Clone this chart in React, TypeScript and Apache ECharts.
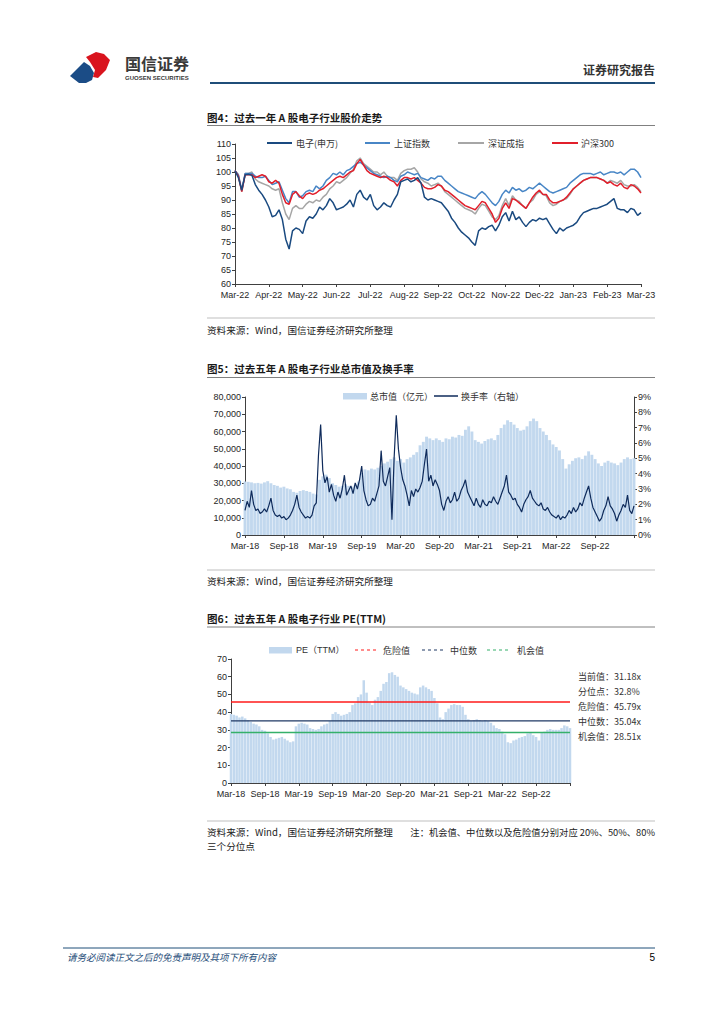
import React, { useEffect, useRef } from 'react';
import * as echarts from 'echarts';

// ---------------- Chart 1: past year price index (base 100) ----------------
const months1 = ['Mar-22', 'Apr-22', 'May-22', 'Jun-22', 'Jul-22', 'Aug-22', 'Sep-22', 'Oct-22', 'Nov-22', 'Dec-22', 'Jan-23', 'Feb-23', 'Mar-23'];
const legend1 = ['电子(申万)', '上证指数', '深证成指', '沪深300'];
const elec = [100.5,98,93.5,99,99.2,98.8,95.5,93.5,92,90,
 87.5,84,84.5,86.5,83,76,72.5,79,80,79.5,
 78,82.5,84,83.5,85,87.5,86.5,88,90.5,89,
 86.5,87,87.5,88.5,90,87.5,92,93.5,91,90,
 92,88,86.5,87.5,89,88,87.5,90,92,96.5,
 97,97.5,96.5,97,98,96,91,90,90.5,90,
 89.5,89,87.5,86,83.5,82,80,78.5,77.5,76.5,
 75,73.8,79,80,79.5,80.5,81,79,81,84,
 85.5,82.5,86,83,84,82,80.5,82,83,82.5,
 83.5,83,83.5,81.5,79.5,78,80,79,80,80.5,
 81,82,84,85.5,86,86.5,87,87,87.5,88,
 88.5,89.5,90.5,87,86.5,86.5,85.5,87,86.5,84.5,
 85.5];
const shIndex = [100.5,99,93.5,99.5,99.5,99.5,98.5,98,98,98.5,
 97,95.5,96,96.5,93.5,90.5,89,93,93,91,
 91.5,93,93.5,93,95,94,95,97,98,99.5,
 99,100,99,100.5,101,102,103,103.5,102.5,101.5,
 100.5,99.5,99,98.5,98,98.5,98,97,96.5,98.5,
 99,100,99.5,99,99.5,98,97.5,97,98,97.5,
 98.5,98.5,97,96,95,94,93,92.5,92,91.5,
 91,90.5,92,93,92,90.5,89,88,89.5,92,
 93.5,92.5,94.5,93.5,94,93,93.5,94.5,94,95,
 96,95,94,93,92.5,93,93.5,94,94.5,96,
 97,98,99,99.5,99.5,99.5,99,99.5,100,99,
 99.5,100,100,99.5,100,99,100,101,101,100,
 98];
const szIndex = [100.5,99,93,99.5,99.5,100,97.5,96.5,96,95.5,
 95,94,93.5,94,89,85,83,87,88,87,
 87,88.5,89.5,89,90,89.5,91,92,94,95,
 96.5,96,97,98,99.5,101,104,105,103,102,
 101,100,100,99,100,98.5,98,98,97,99.5,
 100.5,101,101,101.5,100,97.5,96.5,96,95,95.5,
 96,95,93,92,91,90,89,88,87,86.5,
 86,85,87,88.5,88,86,84,83,84.5,88,
 90.5,88,91.5,90,89.5,88,87,89,90,92,
 93,92,91.5,89,88,88.5,89.5,90,90.5,92,
 94,95,96,97,97.5,98,98,98,97.5,97,
 96,97,96.5,96,97,95.5,95,95,95.5,94.5,
 93];
const hs300 = [100.5,98.5,93,99,99,99,98,98.5,99,98.5,
 96.5,96,97,96,92,89,88.5,92,93,91.5,
 90.5,92,92.5,92,92.5,93.5,94,95,96,97,
 98,98.5,98,99,100,100.5,103,104.5,102.5,100.5,
 99.5,99,98.5,98,98.5,98,97,96.5,95,97,
 98,98,97.5,98,97,96,94.5,94,94,94.5,
 95.5,95,93.5,93,92,91,90,89,88,87.5,
 87,86.5,88,89.5,89,87,85,82,83.5,87,
 89,87,90.5,90,89,88,87,89,91,92.5,
 93.5,92,92,90,89,89,89.5,90,91,92.5,
 94,95,96,97,97.5,98,98,98,97.5,97,
 96,96.5,95.5,95,96,94.5,94,95.5,95,94,
 92.5];

// ---------------- Chart 2: market cap & turnover (5 years) ----------------
const halfYearLabels = ['Mar-18', 'Sep-18', 'Mar-19', 'Sep-19', 'Mar-20', 'Sep-20', 'Mar-21', 'Sep-21', 'Mar-22', 'Sep-22'];
const legend2 = ['总市值（亿元）', '换手率（右轴）'];
// half-monthly, 亿元
const marketCap = [31000,30800,30500,30000,30200,29800,30500,31200,30000,29000,
 28500,27500,28000,27000,26500,25000,24500,25500,26000,25500,
 25000,24000,23500,32000,34000,35000,33000,30000,29000,28000,
 28500,29500,28500,28000,29000,31000,36000,38000,37500,38500,
 38000,39000,40000,41500,42500,44000,45000,43000,44000,42000,
 44000,45000,46500,48000,52000,54000,57000,56000,55000,56000,
 55000,54000,56000,55500,57000,56500,58000,57500,61000,63000,
 60000,55000,54000,53000,54500,55500,56000,55000,58000,62000,
 64000,66500,65500,64000,62000,60500,61000,63000,66000,67500,
 66000,62000,60000,58000,55000,52500,51000,49000,44000,38500,
 41000,43000,44500,45000,44000,46000,48500,46500,44000,41500,
 40000,42000,43000,42000,41500,40500,42000,44000,45000,44000,
 44500];
// three readings per month, %
const turnover = [1.6,2.2,1.8,2.9,2.0,1.6,1.7,1.4,1.5,1.7,
 1.5,1.9,2.4,1.6,1.3,1.2,1.3,1.1,1.2,1.0,
 1.1,1.3,1.6,2.0,2.6,1.8,1.5,1.3,1.1,1.2,
 1.1,1.3,1.9,2.1,5.2,7.2,4.2,3.4,3.8,2.8,
 3.3,2.6,2.2,2.8,2.4,3.0,3.9,2.6,2.9,3.2,
 2.7,3.4,3.0,3.6,4.5,2.9,2.3,1.9,2.0,2.4,
 2.2,2.7,3.2,5.5,3.5,3.2,3.8,4.4,1.0,5.0,
 7.8,5.6,4.4,3.6,3.2,2.6,1.9,2.9,2.5,3.0,
 2.8,3.1,3.5,4.6,5.6,3.5,3.9,3.2,3.6,3.3,
 2.9,2.0,1.6,2.2,2.5,2.1,2.3,2.8,2.2,2.4,
 2.9,3.2,3.6,2.8,2.5,2.2,1.9,2.4,2.0,1.8,
 2.3,2.0,1.9,2.2,2.1,2.5,2.2,2.0,2.4,2.8,
 3.2,3.9,2.8,2.6,2.3,2.4,2.0,1.8,1.5,2.0,
 2.3,2.5,2.9,2.4,2.2,2.0,1.9,2.1,1.7,1.6,
 1.8,1.5,1.3,1.2,1.1,1.3,1.0,1.2,1.1,1.3,
 1.6,1.4,1.8,1.5,1.7,2.1,1.9,2.4,2.8,3.2,
 2.4,1.8,1.5,1.2,0.9,1.1,1.6,1.9,2.5,1.9,
 1.7,1.4,0.9,1.3,1.6,2.0,1.8,2.6,1.6,1.4,
 1.9];

// ---------------- Chart 3: PE(TTM) ----------------
const legend3 = ['PE（TTM）', '危险值', '中位数', '机会值'];
const peTTM = [39,38.5,38,37,37.5,36.5,35.5,34.5,33.5,33,
 32,30,29.5,28,26,24.5,25,25.5,26,25,
 24,23,23.5,32,33.5,34,33.5,33,31,30.5,
 30,30.5,32,33,33.5,35,39,40,39,38,
 38.5,39,40,44,45,48.5,50,58,51,45.5,
 44,47,48.5,52,56,57,62,62.5,61,60,
 55,54,53,52,51,50.5,50,54,55,54,
 53,52,48,45,37,36,40,42,44,44.5,
 44,44,43,38.5,36,35,35.5,36,35.5,35,
 35.5,35,34,32.5,31,30.5,29,27.5,23,22.5,
 24,24.5,25.5,26,26.5,28,28.5,27,26,24,
 28.5,29,30,30.5,30,30,30,31,32.5,32,
 31];
const peDanger = 45.79;
const peMedian = 35.04;
const peOpportunity = 28.51;
const peNotes = ['当前值：31.18x', '分位点：32.8%', '危险值：45.79x', '中位数：35.04x', '机会值：28.51x'];

const SANS = "'Liberation Sans', Arial, 'Noto Sans CJK SC', sans-serif";
const CJK = "'Noto Sans CJK SC', 'Liberation Sans', sans-serif";

const C_ELEC = '#1a4a80';
const C_SH = '#4886c6';
const C_SZ = '#a6a6a6';
const C_HS = '#e11f2b';
const C_BAR = '#c2d8ee';
const C_TURN = '#0f2b5b';
const C_RED = '#ff1a1a';
const C_NAVY = '#1f3864';
const C_GREEN = '#35b06a';

function txt(x: number, y: number, s: string, size: number, color = '#333', align = 'left', weight = 'normal', family = CJK, style = 'normal') {
  return {
    type: 'text', x, y, silent: true,
    style: { text: s, font: `${style} ${weight} ${size}px ${family}`, fill: color, textAlign: align, textVerticalAlign: 'middle' },
  };
}
function ln(x1: number, y1: number, x2: number, y2: number, color: string, w: number, dash?: number[]) {
  return { type: 'line', silent: true, shape: { x1, y1, x2, y2 }, style: { stroke: color, lineWidth: w, lineDash: dash } };
}
function rc(x: number, y: number, w: number, h: number, color: string) {
  return { type: 'rect', silent: true, shape: { x, y, width: w, height: h }, style: { fill: color } };
}

const axisLineStyle = { color: '#404040', width: 1 };
const labelBase = { fontSize: 9, color: '#262626', fontFamily: SANS };

function buildOption() {
  const n1 = elec.length;
  const p1 = (arr: number[]) => arr.map((v, i) => [(i * 12) / (n1 - 1), v]);
  const halfMonth = (arr: number[]) => arr.map((v, i) => [i / 2, v]);
  const thirdMonth = (arr: number[]) => arr.map((v, i) => [i / 3, v]);

  const source = '资料来源：Wind，国信证券经济研究所整理';
  const graphic: any[] = [
    // header logo
    { type: 'polygon', silent: true, shape: { points: [[70, 76], [84, 62], [90, 66], [94, 73], [92, 80], [86, 83], [79, 83]] }, style: { fill: '#1b4c86' } },
    { type: 'polygon', silent: true, shape: { points: [[86, 57], [96, 52], [104, 54], [110, 60], [106, 70], [98, 78], [93, 77], [95, 70], [90, 62]] }, style: { fill: '#d9141e' } },
    txt(125, 63, '国信证券', 16, '#3a3a3a', 'left', 'bold'),
    txt(125, 77.5, 'GUOSEN SECURITIES', 6, '#3a3a3a', 'left', 'bold', SANS),
    ln(210, 83, 655, 83, '#1f4e79', 2),
    txt(655, 69, '证券研究报告', 12, '#333', 'right', 'bold'),

    // chart 1 frame
    txt(207, 117, '图4：过去一年 A 股电子行业股价走势', 10.5, '#1a1a1a', 'left', 'bold'),
    ln(207, 125.5, 655, 125.5, '#808080', 1),
    ln(267, 143, 292, 143, C_ELEC, 2), txt(296, 143, legend1[0], 9, '#333'),
    ln(365, 143, 390, 143, C_SH, 2), txt(394, 143, legend1[1], 9, '#333'),
    ln(458, 143, 484, 143, C_SZ, 2), txt(488, 143, legend1[2], 9, '#333'),
    ln(552, 143, 578, 143, C_HS, 2), txt(581, 143, legend1[3], 9, '#333'),
    ln(207, 318, 655, 318, '#bfbfbf', 1.2),
    txt(207, 330, source, 9.6, '#222'),

    // chart 2 frame
    txt(207, 368, '图5：过去五年 A 股电子行业总市值及换手率', 10.5, '#1a1a1a', 'left', 'bold'),
    ln(207, 377.5, 655, 377.5, '#808080', 1),
    rc(343, 393, 24, 6.5, C_BAR), txt(370, 396, legend2[0], 9, '#333'),
    ln(434, 396, 458, 396, C_TURN, 1.5), txt(461, 396, legend2[1], 9, '#333'),
    ln(207, 570, 655, 570, '#bfbfbf', 1.2),
    txt(207, 581, source, 9.6, '#222'),

    // chart 3 frame
    txt(207, 618, '图6：过去五年 A 股电子行业 PE(TTM)', 10.5, '#1a1a1a', 'left', 'bold'),
    ln(207, 627, 655, 627, '#808080', 1),
    rc(269, 647, 23, 6.5, C_BAR), txt(296, 650, legend3[0], 9, '#333', 'left', 'normal', SANS),
    ln(355, 650, 377, 650, C_RED, 1.2, [3, 3]), txt(383, 650, legend3[1], 9, '#333'),
    ln(422, 650, 444, 650, C_NAVY, 1.2, [3, 3]), txt(450, 650, legend3[2], 9, '#333'),
    ln(487, 650, 510, 650, C_GREEN, 1.2, [3, 3]), txt(517, 650, legend3[3], 9, '#333'),
    ...peNotes.map((s, i) => txt(578, 676 + i * 15.2, s, 9, '#333')),
    ln(207, 821, 655, 821, '#bfbfbf', 1.2),
    txt(207, 832, source, 9.6, '#222'),
    txt(655, 832, '注：机会值、中位数以及危险值分别对应 20%、50%、80%', 9.3, '#222', 'right'),
    txt(207, 846, '三个分位点', 9.6, '#222'),

    // footer
    ln(63, 948, 655, 948, '#1f4e79', 1),
    txt(67, 957, '请务必阅读正文之后的免责声明及其项下所有内容', 9.5, '#1f4e79', 'left', 'normal', CJK, 'italic'),
    txt(655, 957, '5', 10, '#000', 'right', 'normal', SANS),
  ];

  const valueX = (gridIndex: number, max: number, interval: number, fmt: (v: number) => string) => ({
    type: 'value', gridIndex, min: 0, max, interval,
    axisLine: { show: true, onZero: false, lineStyle: axisLineStyle },
    axisTick: { show: true, length: 3, lineStyle: axisLineStyle },
    axisLabel: { ...labelBase, margin: 6, formatter: fmt, showMinLabel: true, showMaxLabel: true },
    splitLine: { show: false },
  });
  const valueY = (gridIndex: number, min: number, max: number, interval: number, fmt?: any, position = 'left') => ({
    type: 'value', gridIndex, min, max, interval, position,
    axisLine: { show: true, lineStyle: axisLineStyle },
    axisTick: { show: true, length: 3, lineStyle: axisLineStyle },
    axisLabel: { ...labelBase, margin: 4, formatter: fmt },
    splitLine: { show: false },
  });

  return {
    animation: false,
    backgroundColor: '#fff',
    textStyle: { fontFamily: SANS },
    grid: [
      { left: 235, top: 144, width: 406, height: 140 },
      { left: 245, top: 397, width: 389, height: 138 },
      { left: 231, top: 659, width: 339, height: 124 },
    ],
    xAxis: [
      valueX(0, 12, 1, (v: number) => months1[Math.round(v)] || ''),
      valueX(1, 60, 6, (v: number) => halfYearLabels[Math.round(v / 6)] || ''),
      valueX(2, 60, 6, (v: number) => halfYearLabels[Math.round(v / 6)] || ''),
    ],
    yAxis: [
      valueY(0, 60, 110, 5),
      valueY(1, 0, 80000, 10000, (v: number) => v.toLocaleString('en-US')),
      valueY(1, 0, 9, 1, (v: number) => `${v}%`, 'right'),
      valueY(2, 0, 70, 10),
    ],
    series: [
      { name: legend1[3], type: 'line', xAxisIndex: 0, yAxisIndex: 0, data: p1(hs300), showSymbol: false, lineStyle: { color: C_HS, width: 1.5 }, z: 3 },
      { name: legend1[2], type: 'line', xAxisIndex: 0, yAxisIndex: 0, data: p1(szIndex), showSymbol: false, lineStyle: { color: C_SZ, width: 1.5 }, z: 2 },
      { name: legend1[1], type: 'line', xAxisIndex: 0, yAxisIndex: 0, data: p1(shIndex), showSymbol: false, lineStyle: { color: C_SH, width: 1.5 }, z: 2 },
      { name: legend1[0], type: 'line', xAxisIndex: 0, yAxisIndex: 0, data: p1(elec), showSymbol: false, lineStyle: { color: C_ELEC, width: 1.5 }, z: 4 },

      { name: legend2[0], type: 'bar', xAxisIndex: 1, yAxisIndex: 1, data: halfMonth(marketCap), barWidth: 2.9, itemStyle: { color: C_BAR }, z: 1 },
      { name: legend2[1], type: 'line', xAxisIndex: 1, yAxisIndex: 2, data: thirdMonth(turnover), showSymbol: false, lineStyle: { color: C_TURN, width: 1.2 }, z: 3 },

      { name: legend3[0], type: 'bar', xAxisIndex: 2, yAxisIndex: 3, data: halfMonth(peTTM), barWidth: 2.5, itemStyle: { color: C_BAR }, z: 1 },
      { name: legend3[1], type: 'line', xAxisIndex: 2, yAxisIndex: 3, data: [[0, peDanger], [60, peDanger]], showSymbol: false, lineStyle: { color: C_RED, width: 1.5 }, z: 3 },
      { name: legend3[2], type: 'line', xAxisIndex: 2, yAxisIndex: 3, data: [[0, peMedian], [60, peMedian]], showSymbol: false, lineStyle: { color: C_NAVY, width: 1.3 }, z: 3 },
      { name: legend3[3], type: 'line', xAxisIndex: 2, yAxisIndex: 3, data: [[0, peOpportunity], [60, peOpportunity]], showSymbol: false, lineStyle: { color: C_GREEN, width: 1.6 }, z: 3 },
    ],
    graphic,
  };
}

export default function App() {
  const ref = useRef<HTMLDivElement>(null);
  useEffect(() => {
    if (!ref.current) return;
    const chart = echarts.init(ref.current, undefined, { renderer: 'svg' });
    chart.setOption(buildOption() as any);
    return () => chart.dispose();
  }, []);
  return <div ref={ref} style={{ position: 'absolute', left: 0, top: 0, width: 724, height: 1024, background: '#fff' }} />;
}
